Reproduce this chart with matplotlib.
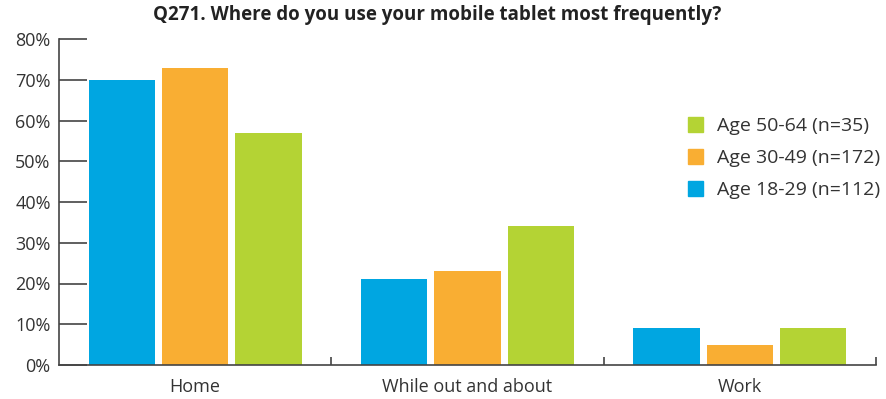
import matplotlib.pyplot as plt
import numpy as np
from matplotlib.patches import Patch

plt.rcParams['font.family'] = ['Open Sans', 'DejaVu Sans']

categories = ['Home', 'While out and about', 'Work']
groups = ['Age 18-29 (n=112)', 'Age 30-49 (n=172)', 'Age 50-64 (n=35)']
age_18_29 = [70, 21, 9]
age_30_49 = [73, 23, 5]
age_50_64 = [57, 34, 9]
colors = ['#00A6E1', '#F9AE33', '#B4D334']

fig = plt.figure(figsize=(8.86, 3.99), dpi=100)
ax = fig.add_axes([59/886, 34/399, 817/886, 326/399])

x = np.arange(len(categories))
width = 0.243
step = 0.269
for i, (vals, c) in enumerate(zip([age_18_29, age_30_49, age_50_64], colors)):
    ax.bar(x + (i - 1) * step, vals, width, color=c, zorder=2)

ax.set_xlim(-0.5, 2.5)
ax.set_ylim(0, 80)
ax.set_yticks(range(0, 81, 10))
ax.set_yticklabels([f'{v}%' for v in range(0, 81, 10)])
ax.set_xticks(x)
ax.set_xticklabels(categories)
ax.set_xticks([0.5, 1.5, 2.5], minor=True)
ax.tick_params(axis='x', which='major', length=0, pad=9, labelsize=13, colors='#333333')
ax.tick_params(axis='x', which='minor', direction='in', length=6, width=1.2, color='#444444')
ax.tick_params(axis='y', direction='in', length=20, width=1.2, color='#444444',
               labelsize=13, labelcolor='#333333', pad=6)
for s in ['top', 'right']:
    ax.spines[s].set_visible(False)
for s in ['left', 'bottom']:
    ax.spines[s].set_color('#444444')
    ax.spines[s].set_linewidth(1.2)

handles = [Patch(color=c) for c in colors][::-1]
ax.legend(handles, groups[::-1], loc='upper left', bbox_to_anchor=(0.77, 0.76),
          frameon=False, fontsize=14, handlelength=0.75, handleheight=0.75,
          labelspacing=0.72, handletextpad=0.75, labelcolor='#333333',
          borderaxespad=0, borderpad=0)

fig.text(437/886, 1 - 15/399, 'Q271. Where do you use your mobile tablet most frequently?',
         ha='center', va='center', fontsize=13.5, fontweight='bold', color='#222222')

fig.savefig('out.png', dpi=100)
